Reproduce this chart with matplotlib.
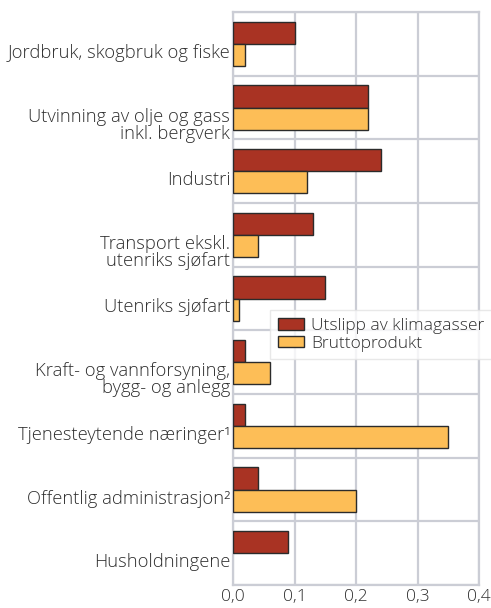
import numpy as np
import matplotlib.pyplot as plt

categories = [
    "Jordbruk, skogbruk og fiske",
    "Utvinning av olje og gass\ninkl. bergverk",
    "Industri",
    "Transport ekskl.\nutenriks sjøfart",
    "Utenriks sjøfart",
    "Kraft- og vannforsyning,\nbygg- og anlegg",
    "Tjenesteytende næringer¹",
    "Offentlig administrasjon²",
    "Husholdningene",
]
utslipp = [0.10, 0.22, 0.24, 0.13, 0.15, 0.02, 0.02, 0.04, 0.09]
brutto = [0.02, 0.22, 0.12, 0.04, 0.01, 0.06, 0.35, 0.20, 0.0]
xticks = [0.0, 0.1, 0.2, 0.3, 0.4]
xticklabels = ["0,0", "0,1", "0,2", "0,3", "0,4"]

plt.rcParams['font.family'] = ['Open Sans', 'DejaVu Sans']
plt.rcParams['font.weight'] = 'light'

red = '#a93323'
yellow = '#fdbe57'
grid = '#cbcdd5'
txt = '#2e2e2e'

fig = plt.figure(figsize=(4.91, 6.08), dpi=100)
ax = fig.add_axes([233/491, 1 - 585/608, (479 - 233)/491, (585 - 12)/608])

y = np.arange(len(categories))
h = 0.35
ax.barh(y - h/2, utslipp, height=h, color=red, edgecolor='#2b2b2b',
        linewidth=1.0, label='Utslipp av klimagasser', zorder=3)
bars = ax.barh(y + h/2, brutto, height=h, color=yellow, edgecolor='#2b2b2b',
               linewidth=1.0, label='Bruttoprodukt', zorder=3)
for b, v in zip(bars, brutto):
    if v == 0:
        b.set_linewidth(0)

ax.set_xlim(0, 0.4)
ax.set_ylim(len(categories) - 0.5, -0.5)

ax.set_xticks(xticks)
ax.set_xticklabels(xticklabels, fontsize=12.5, color=txt)
ax.set_yticks(y)
ax.set_yticklabels(categories, fontsize=13.2, color=txt, va='top',
                   linespacing=0.95)
ax.set_yticks(np.arange(len(categories) + 1) - 0.5, minor=True)
ax.tick_params(axis='both', which='both', length=0)
ax.tick_params(axis='y', pad=2)
ax.tick_params(axis='x', pad=3)

ax.grid(axis='x', which='major', color=grid, linewidth=1.6, zorder=0)
ax.grid(axis='y', which='minor', color=grid, linewidth=1.6, zorder=0)
for s in ax.spines.values():
    s.set_color(grid)
    s.set_linewidth(1.6)

leg = fig.legend(loc='upper left', bbox_to_anchor=(270/491, 1 - 310/608),
                 frameon=True, fancybox=False, fontsize=12.5,
                 handlelength=1.5, handleheight=0.65, handletextpad=0.4,
                 borderpad=0.45, labelspacing=0.1, borderaxespad=0)
leg.get_frame().set_edgecolor('#e3e3e3')
leg.get_frame().set_linewidth(1.0)
for t in leg.get_texts():
    t.set_color(txt)

fig.savefig('out.png', dpi=100)
